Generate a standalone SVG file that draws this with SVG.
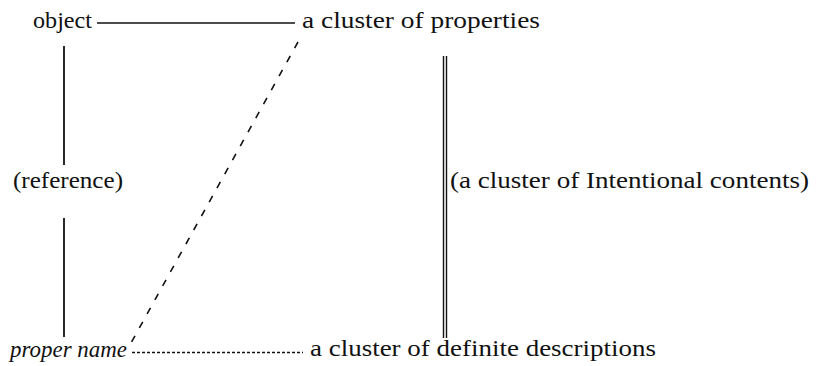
<svg xmlns="http://www.w3.org/2000/svg" width="822" height="366" viewBox="0 0 822 366">
<style>
text{font-family:"Liberation Serif","Times New Roman",serif;font-size:23px;fill:#111}
.it{font-style:italic}
.ln{stroke:#111;fill:none}
</style>
<rect width="822" height="366" fill="#fff"/>
<g id="connectors">
<line class="ln" x1="97" y1="23" x2="295" y2="23" stroke-width="1.6"/>
<line class="ln" x1="64" y1="46" x2="64" y2="165" stroke-width="1.8"/>
<line class="ln" x1="64" y1="218" x2="64" y2="337" stroke-width="1.8"/>
<line class="ln" x1="298" y1="42" x2="131" y2="343" stroke-width="1.6" stroke-dasharray="7,9"/>
<line class="ln" x1="132" y1="352.5" x2="303" y2="352.5" stroke-width="1.3" stroke-dasharray="3,2"/>
<line class="ln" x1="443.5" y1="56" x2="443.5" y2="338" stroke-width="1.4"/>
<line class="ln" x1="446.5" y1="56" x2="446.5" y2="338" stroke-width="1.4"/>
</g>
<g id="object"><text x="33" y="28" textLength="59" lengthAdjust="spacingAndGlyphs">object</text></g>
<g id="properties"><text x="302" y="28" textLength="238" lengthAdjust="spacingAndGlyphs">a cluster of properties</text></g>
<g id="reference"><text x="13" y="188" textLength="110" lengthAdjust="spacingAndGlyphs">(reference)</text></g>
<g id="intentional"><text x="450" y="188" textLength="359" lengthAdjust="spacingAndGlyphs">(a cluster of Intentional contents)</text></g>
<g id="proper-name"><text class="it" x="10" y="357" textLength="117" lengthAdjust="spacingAndGlyphs">proper name</text></g>
<g id="descriptions"><text x="310" y="356" textLength="346" lengthAdjust="spacingAndGlyphs">a cluster of definite descriptions</text></g>
</svg>
